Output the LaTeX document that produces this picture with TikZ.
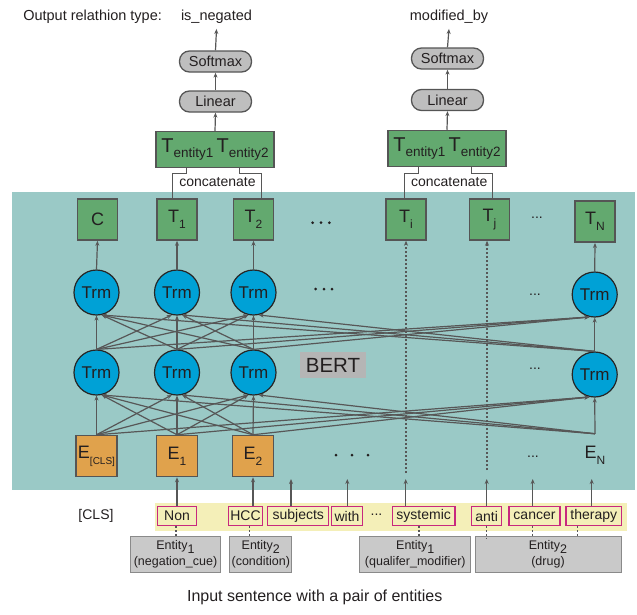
\documentclass[tikz,border=0pt]{standalone}
\usepackage{fontspec}
\setmainfont{Liberation Sans}
\usetikzlibrary{arrows.meta,calc}
\definecolor{tealbg}{HTML}{9AC9C6}
\definecolor{greenbox}{HTML}{63A96F}
\definecolor{orangebox}{HTML}{E0A24C}
\definecolor{bluetrm}{HTML}{00A1D6}
\definecolor{graypill}{HTML}{BEBEBE}
\definecolor{bertgray}{HTML}{B5B5B5}
\definecolor{yellowband}{HTML}{F4EFB8}
\definecolor{magborder}{HTML}{C8287E}
\definecolor{entgray}{HTML}{C9C9C9}
\definecolor{entline}{HTML}{8A8A8A}
\definecolor{boxline}{HTML}{555555}
\definecolor{lineg}{HTML}{575757}
\definecolor{txt}{HTML}{231F20}
\newcommand\myfs[1]{\fontsize{#1}{#1}\selectfont}
\newcommand\mysub[1]{\raisebox{-6pt}{\myfs{12}#1}}
\newcommand\Tent{T\raisebox{-5pt}{\myfs{13.5}entity1}\,T\raisebox{-5pt}{\myfs{13.5}entity2}}
\begin{document}
\begin{tikzpicture}[x=1pt,y=-1pt,
  every node/.style={text=txt},
  lab/.style={inner sep=0pt,font=\myfs{14.5}},
  plain/.style={inner sep=0pt,font=\myfs{14}},
  tbox/.style={draw=boxline,fill=greenbox,line width=1.5pt,minimum width=40pt,minimum height=41pt,inner sep=0pt,font=\myfs{18}},
  tent/.style={draw=boxline,fill=greenbox,line width=1.5pt,minimum width=118pt,minimum height=36pt,inner sep=0pt,font=\myfs{20}},
  trm/.style={circle,draw=black!85,fill=bluetrm,line width=1.2pt,minimum size=45pt,inner sep=0pt,font=\myfs{17}},
  ebox/.style={draw=boxline,fill=orangebox,line width=1.5pt,minimum width=41pt,minimum height=41pt,inner sep=0pt,font=\myfs{18}},
  pill/.style={draw=boxline,fill=graypill,rounded corners=10pt,line width=1.3pt,minimum width=72pt,minimum height=21pt,inner sep=0pt,font=\myfs{14.5}},
  tok/.style={draw=magborder,fill=yellowband,line width=1.3pt,minimum height=18.5pt,inner xsep=1pt,inner ysep=0pt,font=\myfs{14}},
  ent/.style={draw=entline,fill=entgray,line width=1pt,minimum height=35.7pt,inner sep=0pt,align=center,font=\fontsize{12.5}{15.5}\selectfont},
  conn/.style={draw=lineg,line width=1.2pt,-{Stealth[length=5pt,width=4pt]}},
  cline/.style={draw=lineg,line width=1.2pt},
  dotc/.style={draw=lineg,line width=1.2pt,dash pattern=on 2pt off 2pt},
  dotarrow/.style={dotc,-{Stealth[length=5pt,width=4pt]}}
]
\useasboundingbox (0,0) rectangle (637,614);
\fill[tealbg] (12,192) rectangle (635,490);
\fill[yellowband] (155,503.3) rectangle (626.7,530.7);

% top labels
\node[lab] (outlab) at (92.6,17) {Output relathion type:};
\node[lab,inner ysep=5pt] (lab1) at (216.5,17) {is\_negated};
\node[lab,inner ysep=5pt] (lab2) at (449,17) {modified\_by};

% classifier heads
\node[pill] (sm1) at (215.5,61.5) {Softmax};
\node[pill] (lin1) at (215.5,101.5) {Linear};
\node[tent] (tent1) at (215,149.7) {\Tent};
\node[pill] (sm2) at (447.5,58.5) {Softmax};
\node[pill] (lin2) at (447.5,100) {Linear};
\node[tent] (tent2) at (447,148.5) {\Tent};
\node[plain] (cat1) at (217.5,182.5) {concatenate};
\node[plain] (cat2) at (449.2,181.7) {concatenate};

% output tokens
\node[tbox] (c) at (97.5,219.5) {C};
\node[tbox] (t1) at (177,219.5) {T\mysub{1}};
\node[tbox] (t2) at (253.5,219.5) {T\mysub{2}};
\node[tbox] (ti) at (406,219.5) {T\mysub{i}};
\node[tbox] (tj) at (489.5,219.5) {T\mysub{j}};
\node[tbox] (tN) at (595,221.7) {T\mysub{N}};

% transformer layers
\node[trm] (b0) at (96.5,292.5) {Trm};
\node[trm] (b1) at (177,292.5) {Trm};
\node[trm] (b2) at (253.5,292.5) {Trm};
\node[trm] (b3) at (594.7,294.5) {Trm};
\node[trm] (a0) at (96.5,372.5) {Trm};
\node[trm] (a1) at (177,372.5) {Trm};
\node[trm] (a2) at (253.5,372.5) {Trm};
\node[trm] (a3) at (594.7,374.5) {Trm};

% embeddings
\node[ebox] (e0) at (96.5,456) {E\raisebox{-6pt}{\myfs{10}[CLS]}};
\node[ebox] (e1) at (177,456) {E\mysub{1}};
\node[ebox] (e2) at (253,456) {E\mysub{2}};
\node[ebox,draw=none,fill=none] (e3) at (595,455) {E\mysub{N}};

\node[fill=bertgray,minimum width=66pt,minimum height=26.6pt,inner sep=0pt,font=\myfs{20.5}] (bert) at (333,365) {BERT};

% ellipses
\node[plain] (d1) at (537,218) {...};
\node[plain] (d2) at (535,295) {...};
\node[plain] (d3) at (535,369) {...};
\node[plain] (d4) at (533,457) {...};
\foreach \x in {312.7,321,329.3} \fill[txt] (\x,222.7) circle (1.5);
\foreach \x in {315.7,324,332} \fill[txt] (\x,289) circle (1.5);
\foreach \x in {336,352,368} \fill[txt] (\x,455) circle (1.5);

% input tokens
\node[plain] (cls) at (96,516) {[CLS]};
\node[tok,minimum width=39pt] (non) at (177,516) {Non};
\node[tok,minimum width=33.6pt] (hcc) at (245.5,516) {HCC};
\node[tok,minimum width=61pt] (subj) at (298.3,516) {subjects};
\node[tok,minimum width=30.6pt] (with) at (347,516) {with};
\node[plain] (d5) at (376.5,515) {...};
\node[tok,minimum width=62.7pt] (sys) at (423.7,516) {systemic};
\node[tok,minimum width=30pt] (anti) at (486.7,516) {anti};
\node[tok,minimum width=51pt] (cancer) at (534.5,516) {cancer};
\node[tok,minimum width=55.7pt] (therapy) at (593.8,516) {therapy};

% entity boxes
\node[ent,minimum width=90.3pt] (ent1) at (175.5,554.5) {Entity\raisebox{-3.5pt}{\myfs{12.5}1}\\(negation\_cue)};
\node[ent,minimum width=61.7pt] (ent2) at (260.8,554.5) {Entity\raisebox{-3.5pt}{\myfs{12.5}2}\\(condition)};
\node[ent,minimum width=110.7pt] (ent3) at (415.3,554.5) {Entity\raisebox{-3.5pt}{\myfs{12.5}1}\\(qualifer\_modifier)};
\node[ent,minimum width=146pt] (ent4) at (548,554.5) {Entity\raisebox{-3.5pt}{\myfs{12.5}2}\\(drug)};

\node[inner sep=0pt,font=\myfs{16}] (caption) at (314.7,597.3) {Input sentence with a pair of entities};

% head connectors
\draw[conn] (tent1.north) -- (lin1.south);
\draw[conn] (lin1.north) -- (sm1.south);
\draw[conn] (sm1.north) -- (lab1.south);
\draw[conn] (tent2.north) -- (lin2.south);
\draw[conn] (lin2.north) -- (sm2.south);
\draw[conn] (sm2.north) -- (lab2.south);

% concatenate lines
\draw[cline] ($(t1.north)+(-4.3,0)$) |- ($(tent1.south)+(-28.3,5)$) -- ($(tent1.south)+(-28.3,0)$);
\draw[cline] ($(t2.north)+(8.2,0)$) |- ($(tent1.south)+(24.3,5)$) -- ($(tent1.south)+(24.3,0)$);
\draw[cline] ($(ti.north)+(-1.7,0)$) |- ($(tent2.south)+(-28.3,6.3)$) -- ($(tent2.south)+(-28.3,0)$);
\draw[cline] ($(tj.north)+(3.2,0)$) |- ($(tent2.south)+(24.7,6.3)$) -- ($(tent2.south)+(24.7,0)$);

% fans: all-to-all between layers, arriving at the bottom of each circle
\foreach \i in {0,1,2,3}{
  \foreach \j in {0,1,2,3}{
    \pgfmathsetmacro\ang{-90+13*sign(\i-\j)}
    \draw[conn] (e\i.north) -- (a\j.\ang);
    \draw[conn] (a\i.north) -- (b\j.\ang);
  }
}
\draw[conn] (b0.north) -- (c.south);
\draw[conn] (b1.north) -- (t1.south);
\draw[conn] (b2.north) -- (t2.south);
\draw[conn] (b3.north) -- (tN.south);

% dotted skip lines
\coordinate (tiS) at (406,473);
\coordinate (tjS) at (487,470);
\draw[dotarrow] (tiS) -- (tiS |- ti.south);
\draw[dotarrow] (tjS) -- (tjS |- tj.south);

% token arrows
\draw[conn] (non.north -| e1) -- (e1.south);
\draw[conn] (hcc.north -| e2) -- (e2.south);
\coordinate (subjT) at (291,479);
\coordinate (withT) at (347.3,479);
\coordinate (sysT) at (405.7,479);
\coordinate (antiT) at (486.7,479);
\coordinate (cancerT) at (532.7,479);
\coordinate (therT) at (591.7,479);
\draw[conn] (subj.north -| subjT) -- (subjT);
\draw[conn] (with.north -| withT) -- (withT);
\draw[conn] (sys.north -| sysT) -- (sysT);
\draw[conn] (anti.north -| antiT) -- (antiT);
\draw[conn] (cancer.north -| cancerT) -- (cancerT);
\draw[conn] (therapy.north -| therT) -- (therT);

% dotted links to entity boxes
\coordinate (nonB) at ($(non.south)+(-1,0)$);
\coordinate (hccB) at ($(hcc.south)+(3.8,0)$);
\coordinate (sysB) at ($(sys.south)+(-4.7,0)$);
\coordinate (antiB) at (anti.south);
\coordinate (cancerB) at ($(cancer.south)+(-2.2,0)$);
\coordinate (therB) at ($(therapy.south)+(-16.1,0)$);
\draw[dotc] (nonB) -- (nonB |- ent1.north);
\draw[dotc] (hccB) -- (hccB |- ent2.north);
\draw[dotc] (sysB) -- (sysB |- ent3.north);
\draw[dotc] (antiB) -- ($(antiB |- ent4.north)+(0,2)$);
\draw[dotc] (cancerB) -- (cancerB |- ent4.north);
\draw[dotc] (therB) -- (therB |- ent4.north);
\end{tikzpicture}
\end{document}
